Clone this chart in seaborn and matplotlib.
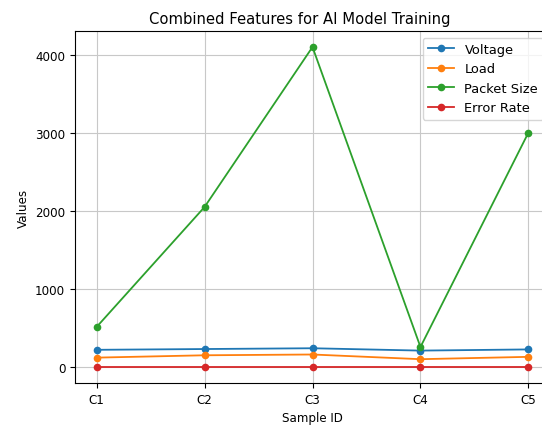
import pandas as pd
import matplotlib.pyplot as plt
import seaborn as sns

# Data
sample_ids = ["C1", "C2", "C3", "C4", "C5"]
voltage = [220, 230, 240, 210, 225]
load = [120, 150, 160, 100, 130]
packet_size = [512, 2048, 4096, 256, 3000]
error_rate = [0.01, 0.02, 0.015, 0.03, 0.025]

series = {
    "Voltage": voltage,
    "Load": load,
    "Packet Size": packet_size,
    "Error Rate": error_rate,
}
colors = ["#1f77b4", "#ff7f0e", "#2ca02c", "#d62728"]

plt.rcParams["font.family"] = ["DejaVu Sans"]

fig = plt.figure(figsize=(5.42, 4.27), dpi=100)
ax = fig.add_axes([75 / 542, 1 - 384 / 427, 475 / 542, 352 / 427])

for (name, vals), c in zip(series.items(), colors):
    df = pd.DataFrame({"Sample ID": sample_ids, "Values": vals})
    sns.lineplot(data=df, x="Sample ID", y="Values", marker="o", color=c,
                 label=name, ax=ax, linewidth=1.3, markersize=5.5,
                 markeredgewidth=0, sort=False)

# title sits a bit left of the axes centre in the original
ax.set_title("Combined Features for AI Model Training", fontsize=10.6,
             pad=6, x=0.474)
ax.set_xlabel("Sample ID", fontsize=8.6)
ax.set_ylabel("Values", fontsize=8.6)
ax.tick_params(labelsize=8.6)
ax.grid(True, color="#c8c8c8", linewidth=0.8)
ax.legend(loc="upper right", fontsize=9.4)

fig.savefig("out.png", dpi=100)
